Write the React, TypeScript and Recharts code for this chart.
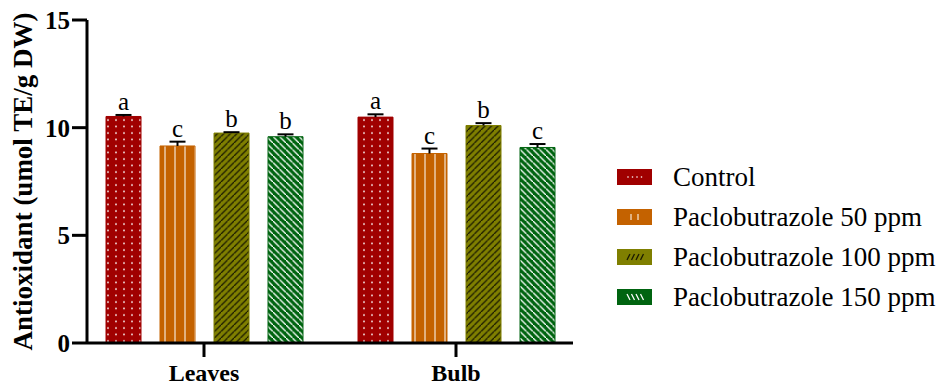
import React from "react"
import { BarChart, Bar, XAxis, YAxis, LabelList, Label } from "recharts"

const categories = ["Leaves", "Bulb"]
const seriesNames = ["Control", "Paclobutrazole 50 ppm", "Paclobutrazole 100 ppm", "Paclobutrazole 150 ppm"]
const controlValues = [10.52, 10.49]
const ppm50Values = [9.15, 8.8]
const ppm100Values = [9.75, 10.1]
const ppm150Values = [9.58, 9.08]
const controlErrors = [0.07, 0.13]
const ppm50Errors = [0.2, 0.23]
const ppm100Errors = [0.04, 0.11]
const ppm150Errors = [0.11, 0.16]
const controlLetters = ["a", "a"]
const ppm50Letters = ["c", "c"]
const ppm100Letters = ["b", "b"]
const ppm150Letters = ["b", "c"]
const yTicks = [0, 5, 10, 15]

const COLORS = [
  "#a00000", // control - dark red
  "#c46200", // 50 ppm - orange
  "#7f7f00", // 100 ppm - olive
  "#006410", // 150 ppm - green
]
const PATTERNS = ["pDots", "pVert", "pDiagBlack", "pDiagWhite"]

const valuesBySeries = [controlValues, ppm50Values, ppm100Values, ppm150Values]
const errorsBySeries = [controlErrors, ppm50Errors, ppm100Errors, ppm150Errors]
const lettersBySeries = [controlLetters, ppm50Letters, ppm100Letters, ppm150Letters]

const data = categories.map((category, i) => {
  const row: Record<string, string | number> = { category }
  valuesBySeries.forEach((vals, s) => {
    row[`s${s}`] = vals[i]
  })
  return row
})

const FONT = "'Liberation Serif', 'Times New Roman', serif"

function makeErrorLabel(s: number) {
  return (props: any) => {
    const { x, y, width, height, value, index } = props
    const pxPerUnit = height / value
    const cx = x + width / 2
    const top = y - errorsBySeries[s][index] * pxPerUnit
    return (
      <g>
        <line x1={cx} y1={y} x2={cx} y2={top} stroke="#000" strokeWidth={2} />
        <line x1={cx - 8} y1={top} x2={cx + 8} y2={top} stroke="#000" strokeWidth={2} />
        <text x={cx} y={top - 5} textAnchor="middle" fontFamily={FONT} fontSize={25} fill="#000">
          {lettersBySeries[s][index]}
        </text>
      </g>
    )
  }
}

// small legend swatch with a sparse version of each fill pattern
function Swatch({ i }: { i: number }) {
  const marks = [0, 1, 2, 3]
  return (
    <svg width={35} height={16} style={{ marginRight: 21, flexShrink: 0 }}>
      <rect x={0.5} y={0.5} width={34} height={15} fill={COLORS[i]} stroke={COLORS[i]} />
      {i === 0 && marks.map((m) => <circle key={m} cx={11 + m * 4.5} cy={8} r={0.8} fill="#fff" />)}
      {i === 1 && [14, 21].map((m) => <line key={m} x1={m} y1={5} x2={m} y2={11} stroke="#fff" strokeWidth={1} />)}
      {i === 2 &&
        marks.map((m) => (
          <line key={m} x1={10 + m * 4.5} y1={11} x2={13 + m * 4.5} y2={5} stroke="#1a1a00" strokeWidth={1.3} />
        ))}
      {i === 3 &&
        marks.map((m) => (
          <line key={m} x1={10 + m * 4.5} y1={5} x2={13 + m * 4.5} y2={11} stroke="#fff" strokeWidth={1.3} />
        ))}
    </svg>
  )
}

export default function App() {
  return (
    <div style={{ position: "absolute", left: 0, top: 0, width: 947, height: 385, background: "#fff" }}>
      <BarChart
        width={947}
        height={385}
        data={data}
        margin={{ top: 20, right: 374, bottom: 0, left: 0 }}
        barSize={35}
        barGap={19}
      >
        <defs>
          <pattern id="pDots" patternUnits="userSpaceOnUse" width={8} height={6.5}>
            <rect width={8} height={6.5} fill={COLORS[0]} />
            <circle cx={4} cy={3} r={0.9} fill="#fff" />
          </pattern>
          <pattern id="pVert" patternUnits="userSpaceOnUse" width={10} height={10}>
            <rect width={10} height={10} fill={COLORS[1]} />
            <line x1={5} y1={0} x2={5} y2={10} stroke="#fff" strokeWidth={1} />
          </pattern>
          <pattern id="pDiagBlack" patternUnits="userSpaceOnUse" width={6.5} height={6.5}>
            <rect width={6.5} height={6.5} fill={COLORS[2]} />
            <path d="M-1,7.5 L7.5,-1 M-4,3.25 L3.25,-4 M3.25,10 L10,3.25" stroke="#1a1a00" strokeWidth={1.3} />
          </pattern>
          <pattern id="pDiagWhite" patternUnits="userSpaceOnUse" width={6.5} height={6.5}>
            <rect width={6.5} height={6.5} fill={COLORS[3]} />
            <path d="M-1,-1 L7.5,7.5 M-4,3.25 L3.25,10.5 M3.25,-4 L10.5,3.25" stroke="#fff" strokeWidth={1.3} />
          </pattern>
        </defs>
        <XAxis
          dataKey="category"
          height={42}
          padding={{ left: -9, right: -9 }}
          tickSize={14}
          tickMargin={7}
          axisLine={{ stroke: "#000", strokeWidth: 3 }}
          tickLine={{ stroke: "#000", strokeWidth: 3 }}
          tick={{ fill: "#000", fontFamily: FONT, fontSize: 24, fontWeight: "bold" }}
        />
        <YAxis
          width={87}
          domain={[0, 15]}
          ticks={yTicks}
          tickSize={15}
          tickMargin={2}
          axisLine={{ stroke: "#000", strokeWidth: 3 }}
          tickLine={{ stroke: "#000", strokeWidth: 3 }}
          tick={{ fill: "#000", fontFamily: FONT, fontSize: 25, fontWeight: "bold" }}
        >
          <Label
            content={({ viewBox }: any) => {
              const cy = viewBox.y + viewBox.height / 2
              return (
                <text
                  x={23}
                  y={cy}
                  transform={`rotate(-90, 23, ${cy})`}
                  textAnchor="middle"
                  dominantBaseline="central"
                  fontFamily={FONT}
                  fontSize={27}
                  fontWeight="bold"
                  fill="#000"
                >
                  Antioxidant (umol TE/g DW)
                </text>
              )
            }}
          />
        </YAxis>
        {seriesNames.map((name, s) => (
          <Bar
            key={name}
            dataKey={`s${s}`}
            name={name}
            fill={`url(#${PATTERNS[s]})`}
            stroke={COLORS[s]}
            strokeWidth={1}
            isAnimationActive={false}
          >
            <LabelList dataKey={`s${s}`} content={makeErrorLabel(s)} />
          </Bar>
        ))}
      </BarChart>
      <div
        style={{
          position: "absolute",
          left: 617,
          top: 157,
          fontFamily: FONT,
          fontSize: 27,
          color: "#000",
        }}
      >
        {seriesNames.map((name, i) => (
          <div key={name} style={{ display: "flex", alignItems: "center", height: 40, whiteSpace: "nowrap" }}>
            <Swatch i={i} />
            <span>{name}</span>
          </div>
        ))}
      </div>
    </div>
  )
}
